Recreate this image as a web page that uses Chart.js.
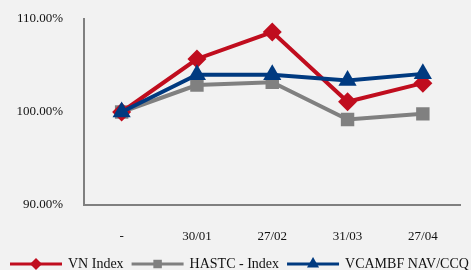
<!DOCTYPE html>
<html>
<head>
<meta charset="utf-8">
<script src="https://cdn.jsdelivr.net/npm/chart.js@4"></script>
<style>
    html, body { margin: 0; padding: 0; background: #f2f2f2; }
    #wrap { width: 471px; height: 270px; }
</style>
</head>
<body>
<div id="wrap"><canvas id="chart" width="471" height="270"></canvas></div>
<script>
    const categories = ['-', '30/01', '27/02', '31/03', '27/04']
    const vnIndex = [100.0, 105.7, 108.6, 101.1, 103.1]
    const hastcIndex = [100.0, 102.9, 103.2, 99.2, 99.8]
    const vcambfNav = [100.0, 104.0, 104.0, 103.4, 104.1]
    const seriesNames = ['VN Index', 'HASTC - Index', 'VCAMBF NAV/CCQ']
    const yTicks = [90, 100, 110]

    const FONT = `"Liberation Serif", "DejaVu Serif", serif`
    const RED = `#c00d1e`
    const GREY = `#808080`
    const NAVY = `#003a80`

    // legend drawn as line + marker like the original, left aligned, running off the right side
    const lineLegend = {
        id: 'lineLegend',
        afterDraw(chart) {
            const ctx = chart.ctx
            ctx.save()
            ctx.font = `14px ${FONT}`
            ctx.textBaseline = 'middle'
            let x = 10
            const y = 264
            const items = [2, 1, 0].map(i => chart.data.datasets.find(d => d.key === i))
            items.forEach(ds => {
                ctx.strokeStyle = ds.borderColor
                ctx.fillStyle = ds.borderColor
                ctx.lineWidth = 3
                ctx.beginPath()
                ctx.moveTo(x, y)
                ctx.lineTo(x + 52, y)
                ctx.stroke()
                Chart.helpers.drawPoint(ctx, {
                    pointStyle: ds.pointStyle,
                    radius: ds.key === 0 ? 7 : 6,
                    borderWidth: 0
                }, x + 26, y)
                ctx.fillStyle = `#111`
                ctx.fillText(ds.label, x + 58, y)
                x += 58 + ctx.measureText(ds.label).width + 8
            })
            ctx.restore()
        }
    }

    Chart.defaults.font.family = FONT
    Chart.defaults.color = `#111`

    new Chart(document.getElementById('chart'), {
        type: 'line',
        data: {
            labels: categories,
            datasets: [
                {
                    key: 2, label: seriesNames[0], data: vnIndex, order: 1,
                    borderColor: RED, backgroundColor: RED, borderWidth: 4,
                    pointStyle: 'rectRot', pointRadius: 9.5, pointBorderWidth: 0
                },
                {
                    key: 1, label: seriesNames[1], data: hastcIndex, order: 2,
                    borderColor: GREY, backgroundColor: GREY, borderWidth: 4,
                    pointStyle: 'rect', pointRadius: 9.5, pointBorderWidth: 0
                },
                {
                    key: 0, label: seriesNames[2], data: vcambfNav, order: 0,
                    borderColor: NAVY, backgroundColor: NAVY, borderWidth: 4,
                    pointStyle: 'triangle', pointRadius: 10.5, pointBorderWidth: 0
                }
            ]
        },
        options: {
            responsive: false,
            animation: false,
            layout: { padding: { top: 19, right: 9, left: 0, bottom: 0 } },
            plugins: {
                legend: { display: false },
                tooltip: { enabled: false }
            },
            scales: {
                x: {
                    offset: true,
                    grid: { display: false, drawTicks: false },
                    border: { color: GREY, width: 2 },
                    ticks: { padding: 24, font: { size: 13 }, color: `#111` },
                    afterFit: (s) => { s.height = 65 }
                },
                y: {
                    min: 90, max: 110,
                    afterBuildTicks: (s) => { s.ticks = yTicks.map(v => ({ value: v })) },
                    grid: { display: false, drawTicks: false },
                    border: { color: GREY, width: 2 },
                    ticks: {
                        padding: 21, font: { size: 13 }, color: `#111`,
                        callback: (v) => `${v.toFixed(2)}%`
                    },
                    afterFit: (s) => { s.width = 84; s.paddingTop = 0; s.paddingBottom = 0 }
                }
            }
        },
        plugins: [lineLegend]
    })
</script>
</body>
</html>
